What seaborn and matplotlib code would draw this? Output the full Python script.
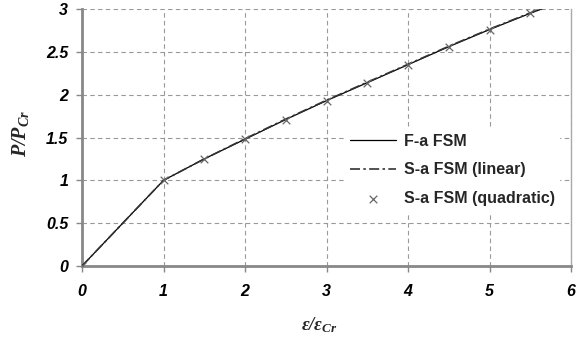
import matplotlib
matplotlib.use("Agg")
import matplotlib.pyplot as plt
import seaborn as sns
import pandas as pd

strain_line = [0, 1, 1.5, 2, 2.5, 3, 3.5, 4, 4.5, 5, 5.5, 6]
load_fa = [0, 1, 1.25, 1.48, 1.71, 1.93, 2.14, 2.35, 2.56, 2.76, 2.95, 3.13]
load_lin = [0, 1, 1.25, 1.485, 1.715, 1.935, 2.145, 2.355, 2.565, 2.765, 2.955, 3.135]
strain_quad = [0, 1, 1.5, 2, 2.5, 3, 3.5, 4, 4.5, 5, 5.5]
load_quad = [0, 1, 1.25, 1.48, 1.71, 1.93, 2.14, 2.35, 2.56, 2.76, 2.95]
x_ticks = [0, 1, 2, 3, 4, 5, 6]
y_ticks = [0, 0.5, 1, 1.5, 2, 2.5, 3]
y_tick_labels = ["0", "0.5", "1", "1.5", "2", "2.5", "3"]

sns.set_style("white")
plt.rcParams['font.family'] = ['Liberation Sans', 'DejaVu Sans']
plt.rcParams['mathtext.fontset'] = 'custom'
plt.rcParams['mathtext.rm'] = 'Liberation Serif:bold:italic'
plt.rcParams['mathtext.it'] = 'Liberation Serif:bold:italic'
plt.rcParams['mathtext.bf'] = 'Liberation Serif:bold:italic'

fig = plt.figure(figsize=(5.87, 3.38), dpi=100)
ax = fig.add_axes([82/587, 1-266/338, (571-82)/587, (266-9)/338])

df_fa = pd.DataFrame({"x": strain_line, "y": load_fa})
df_lin = pd.DataFrame({"x": strain_line, "y": load_lin})
df_q = pd.DataFrame({"x": strain_quad, "y": load_quad})

sns.lineplot(data=df_fa, x="x", y="y", ax=ax, color="black", lw=0.9,
             label="F-a FSM", zorder=3)
sns.lineplot(data=df_lin, x="x", y="y", ax=ax, color="#333333", lw=1.2,
             dashes=False, label="S-a FSM (linear)", zorder=4)
ax.lines[-1].set_dashes([6, 2, 1.5, 2])
sns.scatterplot(data=df_q, x="x", y="y", ax=ax, marker="x", color="#666666",
                s=30, linewidth=0.9, label="S-a FSM (quadratic)", zorder=5)

ax.set_xlim(0, 6)
ax.set_ylim(0, 3)
ax.set_xticks(x_ticks)
ax.set_yticks(y_ticks)
ax.set_xticklabels([str(t) for t in x_ticks])
ax.set_yticklabels(y_tick_labels)
for lab in ax.get_xticklabels() + ax.get_yticklabels():
    lab.set_fontweight("bold")
    lab.set_fontstyle("italic")
    lab.set_fontsize(11.5)
    lab.set_color("black")
ax.tick_params(axis="both", direction="out", length=4, width=1, color="#888888",
               pad=3, bottom=True, left=True)
ax.tick_params(axis="x", pad=9)
ax.tick_params(axis="y", pad=6)

ax.grid(True, color="#999999", linestyle=(0, (4, 3)), linewidth=0.8)
ax.set_axisbelow(True)
for s in ["left", "bottom"]:
    ax.spines[s].set_color("#888888")
    ax.spines[s].set_linewidth(2)
ax.spines["right"].set_color("#aaaaaa")
ax.spines["right"].set_linewidth(1)
ax.spines["top"].set_visible(False)

ax.set_xlabel(r"$\varepsilon / \varepsilon_{Cr}$", fontsize=13.5)
ax.set_ylabel(r"$P/P_{Cr}$", fontsize=14.5)
ax.xaxis.set_label_coords(0.485, -0.19)
ax.yaxis.set_label_coords(-0.104, 0.517)

leg = ax.legend(loc="upper left", bbox_to_anchor=(0.522, 0.565), frameon=True,
                facecolor="white", edgecolor="white", framealpha=1,
                fontsize=11.5, handlelength=2.9, labelspacing=0.85,
                borderpad=0.3, handletextpad=0.45)
for t in leg.get_texts():
    t.set_fontweight("bold")

fig.savefig("out.png", dpi=100)
